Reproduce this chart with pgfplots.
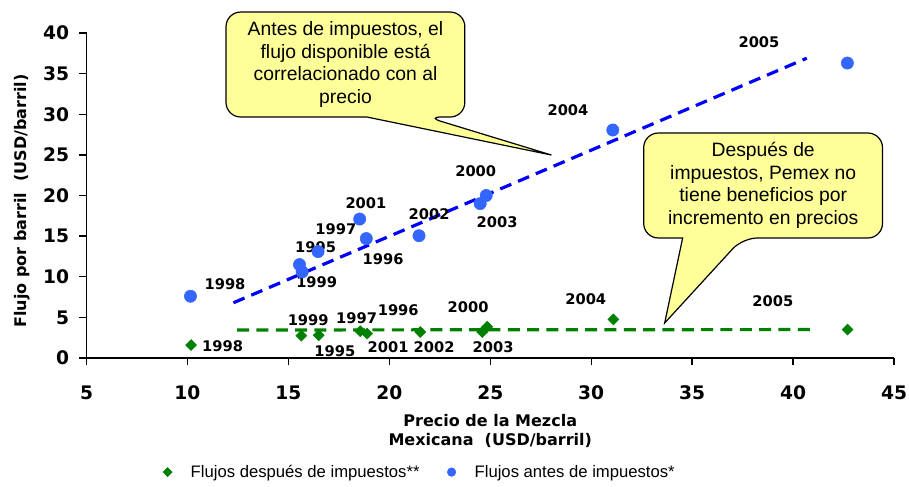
\documentclass[border=0pt]{standalone}
\usepackage{pgfplots}
\pgfplotsset{compat=1.18}
\usepackage{fontspec}
\setmainfont{Liberation Sans}
\newfontfamily\dv{DejaVu Sans}
\definecolor{bluept}{HTML}{3366FF}
\definecolor{greenpt}{HTML}{008000}
\definecolor{calloutfill}{HTML}{FFFF99}
\begin{document}
\begin{tikzpicture}[yr/.style={font=\dv\bfseries\fontsize{11}{11}\selectfont, inner sep=0pt}]
\begin{axis}[
  scale only axis, width=605.6pt, height=243.75pt,
  xmin=5, xmax=45, ymin=0, ymax=40,
  xtick={5,10,...,45}, ytick={0,5,...,40},
  axis lines*=left, axis line style={line width=1pt},
  tick align=outside, major tick length=5.5pt, tick style={black, line width=1pt},
  /pgf/number format/assume math mode=true,
  ticklabel style={font=\dv\bfseries\fontsize{14}{14}\selectfont},
  yticklabel style={xshift=-4pt},
  xticklabel style={yshift=-12pt},
  xlabel={Precio de la Mezcla\\Mexicana\ \ (USD/barril)},
  xlabel style={align=center, font=\dv\bfseries\fontsize{12}{14}\selectfont, yshift=-4pt},
  ylabel={Flujo por barril\ \ (USD/barril)},
  ylabel style={font=\dv\bfseries\fontsize{12}{12}\selectfont, at={(ticklabel cs:0.483,3pt)}},
  clip=false,
  legend columns=2,
  legend image code/.code={\draw[#1] plot[only marks] coordinates {(0pt,0pt)}; \path[draw=none] (-5pt,0pt) (15.3pt,0pt);},
  legend style={draw=none, fill=none, at={(rel axis cs:0.412,-0.351)}, anchor=center,
    font=\fontsize{12.5}{12.5}\selectfont,
    /tikz/every even column/.append style={column sep=17pt}},
]
% trend lines
\addplot[forget plot, blue, line width=2.4pt, dash pattern=on 9pt off 5.5pt] coordinates {(12.28,6.8) (40.68,36.9)};
\addplot[forget plot, greenpt, line width=2.4pt, dash pattern=on 9pt off 5.5pt] coordinates {(12.46,3.45) (41.0,3.5)};
% after taxes
\addplot[only marks, mark=square*, mark size=2.9pt, mark options={rotate=45, fill=greenpt, draw=greenpt},
  legend image post style={mark size=2.4pt}]
 coordinates {(10.18,1.6) (15.64,2.75) (16.5,2.8) (18.56,3.3) (18.9,3.0) (21.53,3.2) (24.6,3.2) (24.85,3.85) (31.1,4.75) (42.7,3.5)};
\addlegendentry{Flujos después de impuestos**}
% before taxes
\addplot[only marks, mark=*, mark size=4.6pt, mark options={fill=bluept, draw=bluept},
  legend image post style={mark size=3.2pt}]
 coordinates {(10.15,7.6) (15.55,11.5) (15.68,10.6) (16.47,13.1) (18.53,17.1) (18.86,14.7) (21.47,15.05) (24.5,19.0) (24.8,20.0) (31.07,28.06) (42.69,36.3)};
\addlegendentry{Flujos antes de impuestos*}
% year labels, before taxes
\node[yr] at (axis cs:11.86,9.07) {1998};
\node[yr] at (axis cs:16.40,9.39) {1999};
\node[yr] at (axis cs:16.35,13.62) {1995};
\node[yr] at (axis cs:17.35,15.88) {1997};
\node[yr] at (axis cs:18.84,19.11) {2001};
\node[yr] at (axis cs:19.69,12.18) {1996};
\node[yr] at (axis cs:21.97,17.72) {2002};
\node[yr] at (axis cs:25.34,16.78) {2003};
\node[yr] at (axis cs:24.28,23.05) {2000};
\node[yr] at (axis cs:28.85,30.52) {2004};
\node[yr] at (axis cs:38.31,38.93) {2005};
% year labels, after taxes
\node[yr] at (axis cs:11.74,1.51) {1998};
\node[yr] at (axis cs:15.98,4.68) {1999};
\node[yr] at (axis cs:17.30,0.78) {1995};
\node[yr] at (axis cs:18.38,4.89) {1997};
\node[yr] at (axis cs:20.44,5.91) {1996};
\node[yr] at (axis cs:19.94,1.32) {2001};
\node[yr] at (axis cs:22.22,1.32) {2002};
\node[yr] at (axis cs:23.90,6.31) {2000};
\node[yr] at (axis cs:25.14,1.39) {2003};
\node[yr] at (axis cs:29.73,7.22) {2004};
\node[yr] at (axis cs:39.00,7.05) {2005};
% callout 1
\draw[fill=calloutfill, line width=0.9pt] (axis cs:28.03,24.98) -- (axis cs:18.89,29.66) [rounded corners=11pt] -- (axis cs:11.91,29.66) -- (axis cs:11.91,42.58) -- (axis cs:23.74,42.58) -- (axis cs:23.74,29.66) -- (axis cs:21.86,29.66) [sharp corners] -- cycle;
\node[align=center, font=\fontsize{14.5}{17}\selectfont] at (axis cs:17.83,36.12) {Antes de impuestos, el\\flujo disponible está\\correlacionado con al\\precio};
% callout 2
\draw[fill=calloutfill, line width=0.9pt] (axis cs:33.64,4.31) -- (axis cs:34.53,14.77) [rounded corners=11pt] -- (axis cs:32.60,14.77) -- (axis cs:32.60,27.69) -- (axis cs:44.43,27.69) -- (axis cs:44.43,14.77) -- (axis cs:37.5,14.77) [sharp corners] -- cycle;
\node[align=center, font=\fontsize{14.5}{17}\selectfont] at (axis cs:38.52,21.23) {Después de\\impuestos, Pemex no\\tiene beneficios por\\incremento en precios};
\end{axis}
\pgfresetboundingbox
\path[use as bounding box] ([shift={(-64.9pt,-96pt)}]current axis.south west) rectangle ++(681.75pt,364.5pt);
\end{tikzpicture}
\end{document}
